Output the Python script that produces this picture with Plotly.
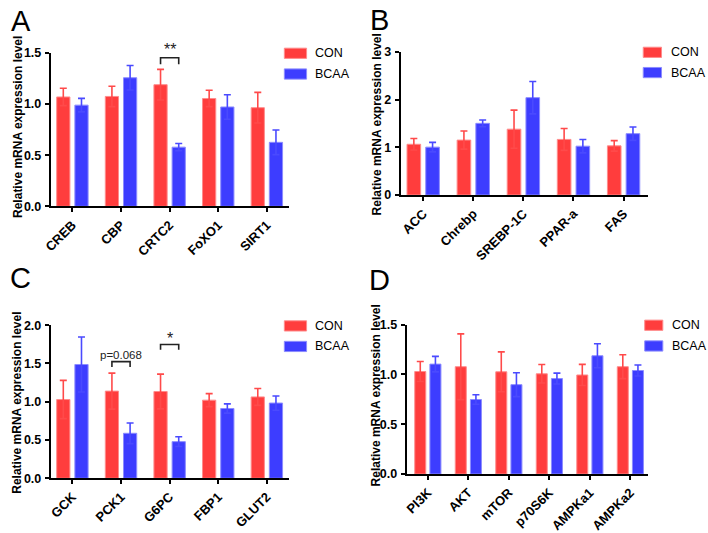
import plotly.graph_objects as go

# ---------------- data ----------------
series_names = ["CON", "BCAA"]

a_genes = ["CREB", "CBP", "CRTC2", "FoXO1", "SIRT1"]
a_con = [1.07, 1.075, 1.19, 1.055, 0.965]
a_con_err = [0.085, 0.10, 0.15, 0.08, 0.15]
a_bcaa = [0.99, 1.258, 0.579, 0.972, 0.626]
a_bcaa_err = [0.066, 0.12, 0.035, 0.12, 0.12]

b_genes = ["ACC", "Chrebp", "SREBP-1C", "PPAR-a", "FAS"]
b_con = [1.065, 1.153, 1.382, 1.167, 1.032]
b_con_err = [0.12, 0.19, 0.40, 0.23, 0.11]
b_bcaa = [1.005, 1.504, 2.043, 1.025, 1.288]
b_bcaa_err = [0.10, 0.07, 0.34, 0.14, 0.14]

c_genes = ["GCK", "PCK1", "G6PC", "FBP1", "GLUT2"]
c_con = [1.029, 1.139, 1.134, 1.021, 1.063]
c_con_err = [0.25, 0.235, 0.227, 0.085, 0.11]
c_bcaa = [1.487, 0.588, 0.479, 0.912, 0.983]
c_bcaa_err = [0.36, 0.135, 0.063, 0.06, 0.093]

d_genes = ["PI3K", "AKT", "mTOR", "p70S6K", "AMPKa1", "AMPKa2"]
d_con = [1.029, 1.077, 1.026, 1.006, 0.994, 1.077]
d_con_err = [0.10, 0.33, 0.20, 0.093, 0.106, 0.12]
d_bcaa = [1.103, 0.748, 0.897, 0.958, 1.187, 1.039]
d_bcaa_err = [0.078, 0.048, 0.12, 0.055, 0.12, 0.055]

y_title = "Relative mRNA expression level"

# ---------------- style ----------------
W, H = 708, 533
FONT = "Arial, Liberation Sans, sans-serif"
RED, RED_EDGE = "#ff3d3d", "#ff8c8c"
BLUE, BLUE_EDGE = "#3d3dff", "#8c8cff"
RED_ERR, BLUE_ERR = "#ff4a4a", "#4a4aff"
BW = 0.272
OFF = 0.187


def px(x):
    return x / W


def py(y):
    return 1 - y / H


panels = [
    dict(letter="A", genes=a_genes, con=a_con, ce=a_con_err, bc=a_bcaa, be=a_bcaa_err,
         x0=43.3, x1=284, yt=47.7, yb=206.7, ymax=1.5, dtick=0.5, fmt=".1f", xr=[-0.444, 4.451],
         letter_xy=(1, 14), ytitle_xy=(9.5, 124), leg=(279.5, 302, 48, 69.5, 308)),
    dict(letter="B", genes=b_genes, con=b_con, ce=b_con_err, bc=b_bcaa, be=b_bcaa_err,
         x0=397.3, x1=647.3, yt=46.7, yb=195, ymax=3, dtick=1, fmt="d", xr=[-0.447, 4.487],
         letter_xy=(364, 13), ytitle_xy=(373, 122), leg=(642.5, 661, 47, 68, 669)),
    dict(letter="C", genes=c_genes, con=c_con, ce=c_con_err, bc=c_bcaa, be=c_bcaa_err,
         x0=43.3, x1=284, yt=330, yb=488.7, ymax=2.0, dtick=0.5, fmt=".1f", xr=[-0.444, 4.451],
         letter_xy=(0, 281), ytitle_xy=(9.5, 410), leg=(279.5, 302, 330.7, 352, 308)),
    dict(letter="D", genes=d_genes, con=d_con, ce=d_con_err, bc=d_bcaa, be=d_bcaa_err,
         x0=403.3, x1=647.3, yt=329.3, yb=484.3, ymax=1.5, dtick=0.5, fmt=".1f", xr=[-0.521, 5.435],
         letter_xy=(363, 283), ytitle_xy=(372, 403), leg=(644, 662.3, 330, 351.5, 670)),
]

fig = go.Figure()
annotations = []
shapes = []

for i, p in enumerate(panels):
    k = "" if i == 0 else str(i + 1)
    xa, ya = "x" + k, "y" + k
    xs = list(range(len(p["genes"])))
    for vals, errs, fill, edge, ecol, off, nm in [
        (p["con"], p["ce"], RED, RED_EDGE, RED_ERR, -OFF - BW / 2, series_names[0]),
        (p["bc"], p["be"], BLUE, BLUE_EDGE, BLUE_ERR, OFF - BW / 2, series_names[1]),
    ]:
        fig.add_trace(go.Bar(
            x=xs, y=vals, width=BW, offset=off, name=nm, showlegend=False,
            marker=dict(color=fill, line=dict(color=edge, width=1)),
            error_y=dict(type="data", array=errs, visible=True, color=ecol,
                         thickness=1.6, width=3.5),
            xaxis=xa, yaxis=ya,
        ))
    ax_common = dict(showgrid=False, zeroline=False, showline=True, linecolor="black",
                     linewidth=2, ticks="outside", tickcolor="black", tickwidth=2,
                     ticklen=4)
    fig.update_layout(**{
        "xaxis" + k: dict(ax_common, domain=[px(p["x0"]), px(p["x1"])], range=p["xr"],
                          tickvals=xs, ticktext=p["genes"],
                          tickfont=dict(family=FONT, size=13, color="black", weight="bold"),
                          tickangle=-45, anchor=ya, fixedrange=True),
        "yaxis" + k: dict(ax_common, domain=[py(p["yb"]), py(p["yt"])], range=[0, p["ymax"]],
                          dtick=p["dtick"], tick0=0, tickformat=p["fmt"], anchor=xa,
                          tickfont=dict(family=FONT, size=12.5, color="black", weight="bold"),
                          ticklabelstandoff=1, fixedrange=True),
    })
    lx, ly = p["letter_xy"]
    annotations.append(dict(text=p["letter"], x=px(lx), y=py(ly), xref="paper", yref="paper",
                            xanchor="left", yanchor="middle", showarrow=False,
                            font=dict(family=FONT, size=29, color="black")))
    tx, ty = p["ytitle_xy"]
    annotations.append(dict(text=y_title, x=px(tx), y=py(ty), xref="paper",
                            yref="paper", textangle=-90, showarrow=False, xanchor="center",
                            yanchor="middle",
                            font=dict(family=FONT, size=12, color="black", weight="bold")))
    r0, r1, cy1, cy2, tx0 = p["leg"]
    for cy, fill, edge, nm in [(cy1, RED, RED_EDGE, series_names[0]),
                               (cy2, BLUE, BLUE_EDGE, series_names[1])]:
        shapes.append(dict(type="rect", xref="paper", yref="paper", x0=px(r0), x1=px(r1),
                           y0=py(cy - 5.3), y1=py(cy + 5.3), fillcolor=fill,
                           line=dict(color=edge, width=1)))
        annotations.append(dict(text=nm, x=px(tx0), y=py(cy), xref="paper", yref="paper",
                                xanchor="left", yanchor="middle", showarrow=False,
                                font=dict(family=FONT, size=12.5, color="black")))


def bracket(xa, ya, g, ytop, yend, label, label_px_y, size):
    xl, xr = g - OFF, g + OFF
    shapes.append(dict(type="path", xref=xa, yref=ya,
                       path="M %f %f L %f %f L %f %f L %f %f" % (xl, yend, xl, ytop, xr, ytop, xr, yend),
                       line=dict(color="#222", width=1.6)))
    annotations.append(dict(text=label, x=g, y=py(label_px_y), xref=xa, yref="paper",
                            showarrow=False, xanchor="center", yanchor="middle",
                            font=dict(family=FONT, size=size, color="#222")))


bracket("x", "y", 2, 1.453, 1.39, "**", 44.5, 16)
bracket("x3", "y3", 1, 1.525, 1.454, "p=0.068", 360.5, 11.5)
bracket("x3", "y3", 2, 1.748, 1.681, "*", 343.5, 16)

fig.update_layout(width=W, height=H, autosize=False, margin=dict(l=0, r=0, t=0, b=0),
                  plot_bgcolor="white", paper_bgcolor="white", barmode="overlay",
                  showlegend=False, annotations=annotations, shapes=shapes)

fig.write_html("out.html", config={"displayModeBar": False},
               post_script="document.body.style.margin='0';document.body.style.overflow='hidden';")
